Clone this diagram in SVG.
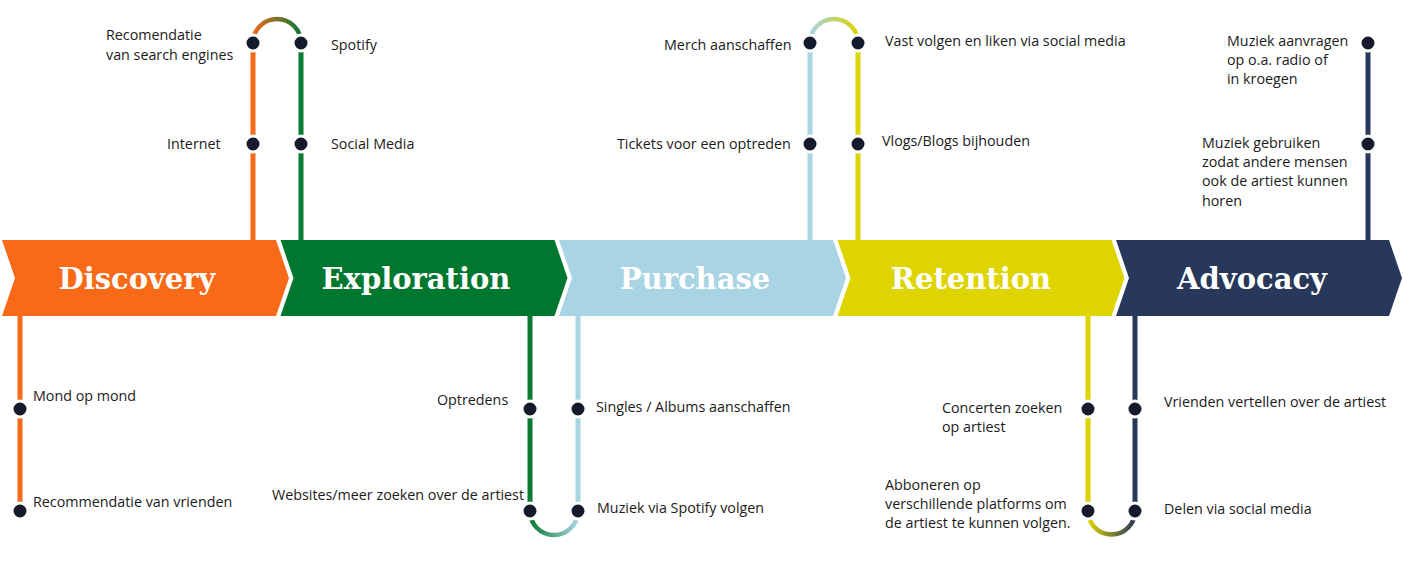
<svg xmlns="http://www.w3.org/2000/svg" width="1403" height="561" viewBox="0 0 1403 561">
  <defs>
    <style>
      .stage-label { font-family: "DejaVu Serif", "Liberation Serif", serif; font-weight: bold; font-size: 29px; fill: #ffffff; text-anchor: middle; }
      .note { font-family: "Open Sans", "Noto Sans", sans-serif; font-size: 14.3px; fill: #1b1b1b; }
      .track { fill: none; stroke-width: 5; }
      .arc { fill: none; stroke-width: 4.5; }
      .dot { fill: #151b2d; stroke: #ffffff; stroke-width: 3; }
    </style>
    <linearGradient id="g-orange-green" gradientUnits="userSpaceOnUse" x1="253" y1="0" x2="301" y2="0">
      <stop offset="0" stop-color="#f26a1b"/>
      <stop offset="1" stop-color="#0b7a33"/>
    </linearGradient>
    <linearGradient id="g-green-blue" gradientUnits="userSpaceOnUse" x1="530" y1="0" x2="578" y2="0">
      <stop offset="0" stop-color="#0b7a33"/>
      <stop offset="1" stop-color="#a8d4e3"/>
    </linearGradient>
    <linearGradient id="g-blue-yellow" gradientUnits="userSpaceOnUse" x1="810" y1="0" x2="858" y2="0">
      <stop offset="0" stop-color="#a8d4e3"/>
      <stop offset="1" stop-color="#dcd400"/>
    </linearGradient>
    <linearGradient id="g-yellow-navy" gradientUnits="userSpaceOnUse" x1="1088" y1="0" x2="1135" y2="0">
      <stop offset="0" stop-color="#dcd400"/>
      <stop offset="1" stop-color="#27385a"/>
    </linearGradient>
  </defs>

  <rect width="1403" height="561" fill="#ffffff"/>

  <!-- connectors: coloured tracks and the arcs that join neighbouring stages -->
  <g id="connectors">
    <line class="track" stroke="#f26a1b" x1="253" y1="43" x2="253" y2="241"/>
    <line class="track" stroke="#0b7a33" x1="301" y1="43" x2="301" y2="241"/>
    <path class="arc" stroke="url(#g-orange-green)" d="M253 43 A24 24 0 0 1 301 43"/>

    <line class="track" stroke="#f26a1b" x1="20" y1="315" x2="20" y2="511"/>

    <line class="track" stroke="#0b7a33" x1="530" y1="315" x2="530" y2="511"/>
    <line class="track" stroke="#a8d4e3" x1="578" y1="315" x2="578" y2="511"/>
    <path class="arc" stroke="url(#g-green-blue)" d="M530 511 A24 24 0 0 0 578 511"/>

    <line class="track" stroke="#a8d4e3" x1="810" y1="43" x2="810" y2="241"/>
    <line class="track" stroke="#dcd400" x1="858" y1="43" x2="858" y2="241"/>
    <path class="arc" stroke="url(#g-blue-yellow)" d="M810 43 A24 24 0 0 1 858 43"/>

    <line class="track" stroke="#dcd400" x1="1088" y1="315" x2="1088" y2="511"/>
    <line class="track" stroke="#27385a" x1="1135" y1="315" x2="1135" y2="511"/>
    <path class="arc" stroke="url(#g-yellow-navy)" d="M1088 511 A23.5 23.5 0 0 0 1135 511"/>

    <line class="track" stroke="#27385a" x1="1368" y1="43" x2="1368" y2="241"/>
  </g>

  <!-- stage chevrons -->
  <g id="stage-discovery">
    <polygon fill="#f86a17" points="2,240 276,240 289,278 276,316 2,316 15,278"/>
    <text class="stage-label" x="137" y="289">Discovery</text>
  </g>
  <g id="stage-exploration">
    <polygon fill="#00772f" points="280.5,240 554.5,240 567.5,278 554.5,316 280.5,316 293.5,278"/>
    <text class="stage-label" x="416" y="289">Exploration</text>
  </g>
  <g id="stage-purchase">
    <polygon fill="#a8d4e3" points="559,240 833,240 846,278 833,316 559,316 572,278"/>
    <text class="stage-label" x="695" y="289">Purchase</text>
  </g>
  <g id="stage-retention">
    <polygon fill="#ded500" points="837.5,240 1111.5,240 1124.5,278 1111.5,316 837.5,316 850.5,278"/>
    <text class="stage-label" x="971" y="289">Retention</text>
  </g>
  <g id="stage-advocacy">
    <polygon fill="#27385a" points="1116,240 1389,240 1402,278 1389,316 1116,316 1129,278"/>
    <text class="stage-label" x="1252" y="289">Advocacy</text>
  </g>

  <!-- touchpoints: dot plus its caption -->
  <g id="tp-search">
    <circle class="dot" cx="253" cy="43" r="8"/>
    <text class="note" x="106" y="40">Recomendatie</text>
    <text class="note" x="106" y="60">van search engines</text>
  </g>
  <g id="tp-internet">
    <circle class="dot" cx="253" cy="144" r="8"/>
    <text class="note" x="167" y="149">Internet</text>
  </g>
  <g id="tp-spotify">
    <circle class="dot" cx="301" cy="43" r="8"/>
    <text class="note" x="331" y="50">Spotify</text>
  </g>
  <g id="tp-social">
    <circle class="dot" cx="301" cy="144" r="8"/>
    <text class="note" x="331" y="149">Social Media</text>
  </g>
  <g id="tp-mond">
    <circle class="dot" cx="20" cy="409" r="8"/>
    <text class="note" x="33" y="401">Mond op mond</text>
  </g>
  <g id="tp-vrienden">
    <circle class="dot" cx="20" cy="511" r="8"/>
    <text class="note" x="33" y="507">Recommendatie van vrienden</text>
  </g>
  <g id="tp-optredens">
    <circle class="dot" cx="530" cy="409" r="8"/>
    <text class="note" x="437" y="405">Optredens</text>
  </g>
  <g id="tp-websites">
    <circle class="dot" cx="530" cy="511" r="8"/>
    <text class="note" x="272" y="500">Websites/meer zoeken over de artiest</text>
  </g>
  <g id="tp-singles">
    <circle class="dot" cx="578" cy="409" r="8"/>
    <text class="note" x="596" y="412">Singles / Albums aanschaffen</text>
  </g>
  <g id="tp-spotify-volgen">
    <circle class="dot" cx="578" cy="511" r="8"/>
    <text class="note" x="597" y="513">Muziek via Spotify volgen</text>
  </g>
  <g id="tp-merch">
    <circle class="dot" cx="810" cy="43" r="8"/>
    <text class="note" x="664" y="50">Merch aanschaffen</text>
  </g>
  <g id="tp-tickets">
    <circle class="dot" cx="810" cy="144" r="8"/>
    <text class="note" x="617" y="149">Tickets voor een optreden</text>
  </g>
  <g id="tp-volgen">
    <circle class="dot" cx="858" cy="43" r="8"/>
    <text class="note" x="885" y="46">Vast volgen en liken via social media</text>
  </g>
  <g id="tp-vlogs">
    <circle class="dot" cx="858" cy="144" r="8"/>
    <text class="note" x="882" y="146">Vlogs/Blogs bijhouden</text>
  </g>
  <g id="tp-concerten">
    <circle class="dot" cx="1088" cy="409" r="8"/>
    <text class="note" x="942" y="413">Concerten zoeken</text>
    <text class="note" x="942" y="432">op artiest</text>
  </g>
  <g id="tp-abboneren">
    <circle class="dot" cx="1088" cy="511" r="8"/>
    <text class="note" x="885" y="490">Abboneren op</text>
    <text class="note" x="885" y="509">verschillende platforms om</text>
    <text class="note" x="885" y="528">de artiest te kunnen volgen.</text>
  </g>
  <g id="tp-vertellen">
    <circle class="dot" cx="1135" cy="409" r="8"/>
    <text class="note" x="1164" y="407">Vrienden vertellen over de artiest</text>
  </g>
  <g id="tp-delen">
    <circle class="dot" cx="1135" cy="511" r="8"/>
    <text class="note" x="1164" y="514">Delen via social media</text>
  </g>
  <g id="tp-aanvragen">
    <circle class="dot" cx="1368" cy="43" r="8"/>
    <text class="note" x="1227" y="46">Muziek aanvragen</text>
    <text class="note" x="1227" y="65">op o.a. radio of</text>
    <text class="note" x="1227" y="84">in kroegen</text>
  </g>
  <g id="tp-gebruiken">
    <circle class="dot" cx="1368" cy="144" r="8"/>
    <text class="note" x="1202" y="148">Muziek gebruiken</text>
    <text class="note" x="1202" y="167">zodat andere mensen</text>
    <text class="note" x="1202" y="186">ook de artiest kunnen</text>
    <text class="note" x="1202" y="206">horen</text>
  </g>
</svg>
